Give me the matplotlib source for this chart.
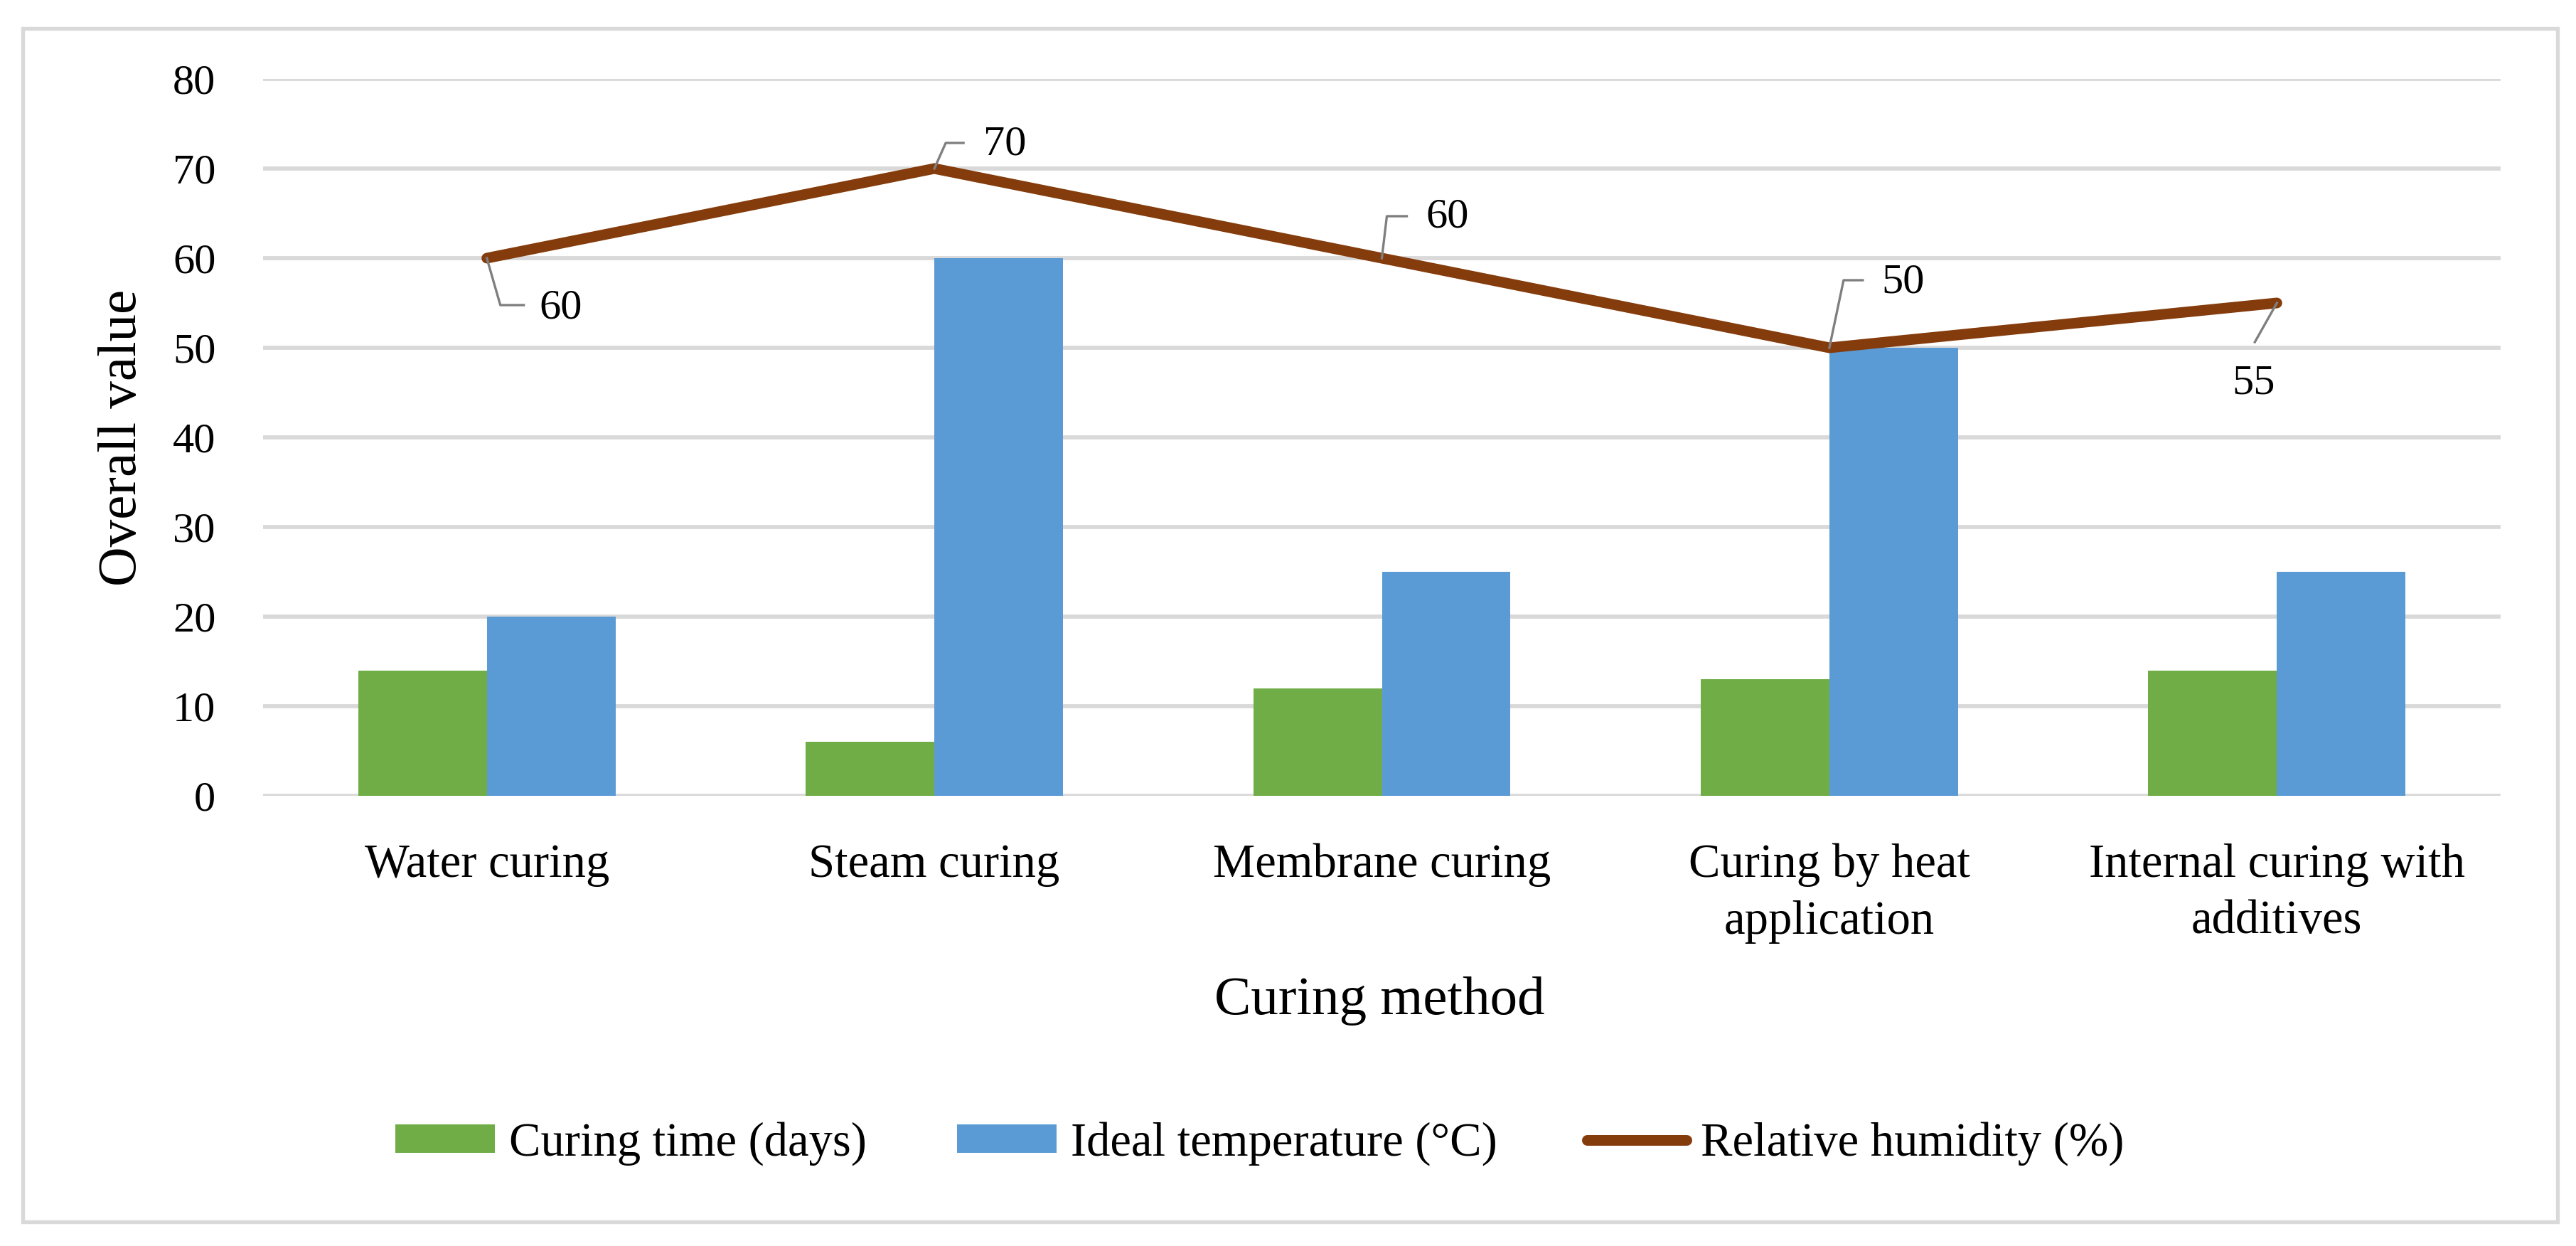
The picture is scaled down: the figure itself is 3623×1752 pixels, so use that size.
import matplotlib
matplotlib.use("Agg")
import matplotlib.pyplot as plt
import numpy as np
from matplotlib.lines import Line2D
from matplotlib.patches import Rectangle
from matplotlib.transforms import IdentityTransform

# data
methods = ["Water curing", "Steam curing", "Membrane curing",
           "Curing by heat\napplication", "Internal curing with\nadditives"]
curing_time = [14, 6, 12, 13, 14]
ideal_temp = [20, 60, 25, 50, 25]
humidity = [60, 70, 60, 50, 55]

GREEN = "#70AD47"
BLUE = "#5B9BD5"
BROWN = "#843C0C"
GRID = "#D9D9D9"
LEADER = "#7F7F7F"

plt.rcParams["font.family"] = ["Liberation Serif", "DejaVu Serif"]

W, H, DPI = 3623, 1752, 300
fig = plt.figure(figsize=(W / DPI, H / DPI), dpi=DPI)
ax = fig.add_axes([370 / W, 1 - 1119 / H, (3517 - 370) / W, (1119 - 111) / H])

x = np.arange(len(methods))
bw = 0.2875
b1 = ax.bar(x - bw / 2, curing_time, bw, color=GREEN, label="Curing time (days)", zorder=2)
b2 = ax.bar(x + bw / 2, ideal_temp, bw, color=BLUE, label="Ideal temperature (\u00b0C)", zorder=2)
ln, = ax.plot(x, humidity, color=BROWN, lw=3.6, solid_capstyle="round",
              solid_joinstyle="miter", label="Relative humidity (%)", zorder=3)

ax.set_xlim(-0.5, len(methods) - 0.5)
ax.set_ylim(0, 80)
ax.set_yticks(range(0, 81, 10))
ax.set_xticks(x)
ax.set_xticklabels(methods, fontsize=16, linespacing=1.4)
ax.tick_params(axis="y", length=0, pad=16, labelsize=14.5)
ax.tick_params(axis="x", length=0, pad=16)
for s in ["top", "right", "left", "bottom"]:
    ax.spines[s].set_visible(False)
ax.yaxis.grid(True, color=GRID, lw=1.4, zorder=0)
ax.set_axisbelow(True)

fig.text(1940 / W, 1 - 1408 / H, "Curing method", fontsize=18.5, ha="center", va="center")
fig.text(172 / W, 1 - 615 / H, "Overall value", fontsize=18.5, ha="center",
         va="center", rotation=90)

# data labels with leader lines (offsets in pixels, y down)
leaders = [
    [(19, 66), (52, 66)],
    [(16, -36), (41, -36)],
    [(7, -59), (35, -59)],
    [(20, -95), (47, -95)],
    [(-31, 55)],
]
label_off = [(104, 71), (99, -33), (92, -57), (104, -92), (-33, 113)]

fig.canvas.draw()
for i, v in enumerate(humidity):
    px, py = ax.transData.transform((x[i], v))
    xs = [px] + [px + ox for ox, oy in leaders[i]]
    ys = [py] + [py - oy for ox, oy in leaders[i]]
    fig.add_artist(Line2D(xs, ys, transform=IdentityTransform(), color=LEADER,
                          lw=0.8, zorder=4))
    ox, oy = label_off[i]
    ax.annotate(str(v), xy=(x[i], v), xytext=(ox, -oy), textcoords="offset pixels",
                ha="center", va="center", fontsize=14.5, zorder=5)

fig.legend([b1, b2, ln], [b1.get_label(), b2.get_label(), ln.get_label()],
           loc="center", bbox_to_anchor=(0.489, 1 - 1608 / H), ncol=3, frameon=False,
           fontsize=16, handlelength=2.1, handleheight=0.55, handletextpad=0.3,
           columnspacing=1.9)

fig.add_artist(Rectangle((32 / W, 1 - 1718 / H), (3597 - 32) / W, (1718 - 40) / H,
                         transform=fig.transFigure, fill=False, edgecolor=GRID, lw=1.3))

fig.savefig("out.png", dpi=DPI, facecolor="white")
